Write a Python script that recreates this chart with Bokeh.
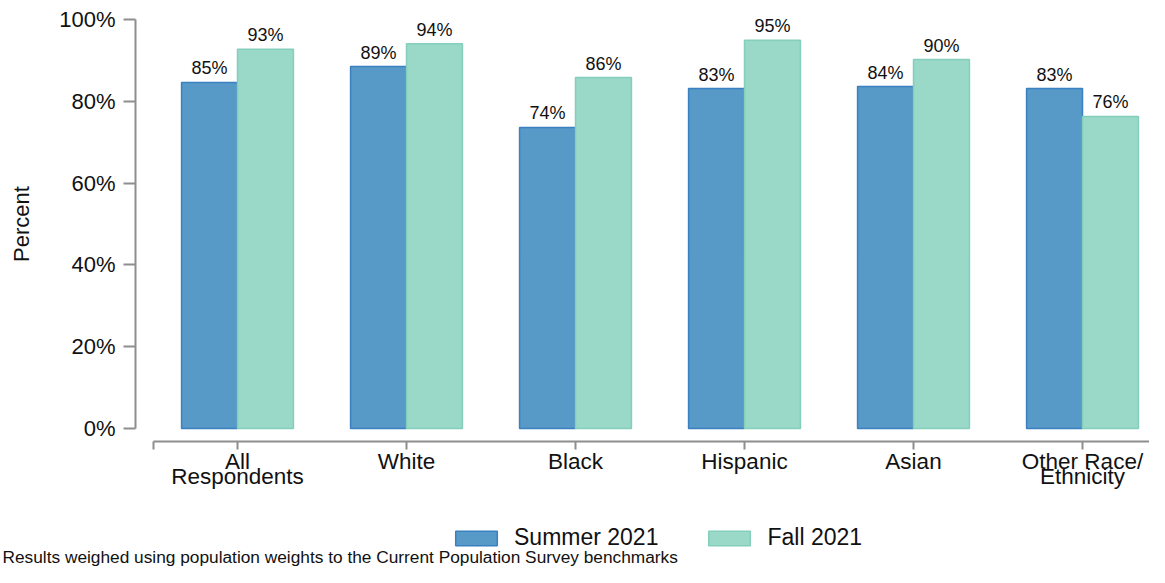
from bokeh.plotting import figure
from bokeh.models import FixedTicker, Range1d, Legend, LegendItem, Label, PrintfTickFormatter
from bokeh.core.properties import value
from bokeh.embed import file_html
from bokeh.resources import INLINE
import numpy as np

# ---- data ----
categories = ["All\nRespondents", "White", "Black", "Hispanic", "Asian", "Other Race/\nEthnicity"]
summer_2021 = [84.6, 88.5, 73.6, 83.1, 83.6, 83.1]
fall_2021 = [92.7, 94.1, 85.8, 94.9, 90.2, 76.3]
summer_labels = ["85%", "89%", "74%", "83%", "84%", "83%"]
fall_labels = ["93%", "94%", "86%", "95%", "90%", "76%"]
series_names = ["Summer 2021", "Fall 2021"]
y_ticks = [0, 20, 40, 60, 80, 100]
footnote = "Results weighed using population weights to the Current Population Survey benchmarks"

FONT = "Liberation Sans"
TXT = "#111111"
SUMMER_FILL, SUMMER_LINE = "#5799C7", "#3B80C0"
FALL_FILL, FALL_LINE = "#9AD8C8", "#84CFBC"
AXIS_COLOR = "#8E8E8E"

W, H = 1149, 567
pos = np.arange(1, len(categories) + 1)
bar_w = 0.331
half = bar_w / 2

# frame covers the whole canvas; axes are drawn at fixed locations
X0, X1 = -0.40237, 6.3964
Y0, Y1 = -33.985, 104.645
Y_AXIS_AT = 0.3964
X_AXIS_AT = -3.178

p = figure(width=W, height=H,
           x_range=Range1d(X0, X1), y_range=Range1d(Y0, Y1),
           output_backend="svg", toolbar_location=None,
           min_border_left=0, min_border_right=0, min_border_top=0, min_border_bottom=0)
p.outline_line_color = None
p.grid.visible = False
p.background_fill_color = "white"
p.border_fill_color = "white"

r1 = p.vbar(x=pos - half, top=summer_2021, bottom=0, width=bar_w,
            fill_color=SUMMER_FILL, line_color=SUMMER_LINE, line_width=1.5)
r2 = p.vbar(x=pos + half, top=fall_2021, bottom=0, width=bar_w,
            fill_color=FALL_FILL, line_color=FALL_LINE, line_width=1.5)

p.text(x=pos - half, y=summer_2021, text=summer_labels, text_align="center",
       text_baseline="alphabetic", y_offset=-14, text_font_size="18px",
       text_font=value(FONT), text_color=TXT)
p.text(x=pos + half, y=fall_2021, text=fall_labels, text_align="center",
       text_baseline="alphabetic", y_offset=-14, text_font_size="18px",
       text_font=value(FONT), text_color=TXT)

# y axis
ya = p.yaxis[0]
ya.fixed_location = Y_AXIS_AT
ya.ticker = FixedTicker(ticks=y_ticks)
ya.formatter = PrintfTickFormatter(format="%d%%")
ya.bounds = (0, 100)
ya.major_tick_out = 12
ya.major_tick_in = 0
ya.minor_tick_line_color = None
ya.axis_line_color = AXIS_COLOR
ya.axis_line_width = 2
ya.major_tick_line_color = AXIS_COLOR
ya.major_tick_line_width = 2
ya.major_label_standoff = 8
ya.major_label_text_font = FONT
ya.major_label_text_font_size = "22px"
ya.major_label_text_color = TXT
ya.axis_label = "Percent"
ya.axis_label_text_font = FONT
ya.axis_label_text_font_size = "22px"
ya.axis_label_text_font_style = "normal"
ya.axis_label_text_color = TXT
ya.axis_label_standoff = 22

# x axis
xa = p.xaxis[0]
xa.fixed_location = X_AXIS_AT
xa.ticker = FixedTicker(ticks=list(pos), minor_ticks=[0.5])
xa.major_label_overrides = {int(k): c for k, c in zip(pos, categories)}
xa.bounds = (0.5, X1)
xa.major_tick_out = 8
xa.major_tick_in = 0
xa.minor_tick_out = 8
xa.minor_tick_in = 0
xa.minor_tick_line_color = AXIS_COLOR
xa.minor_tick_line_width = 2
xa.axis_line_color = AXIS_COLOR
xa.axis_line_width = 2
xa.major_tick_line_color = AXIS_COLOR
xa.major_tick_line_width = 2
xa.major_label_standoff = 0
xa.major_label_text_font = FONT
xa.major_label_text_font_size = "22.5px"
xa.major_label_text_color = TXT
xa.major_label_text_line_height = 0.6

legend = Legend(items=[LegendItem(label=series_names[0], renderers=[r1]),
                       LegendItem(label=series_names[1], renderers=[r2])],
                orientation="horizontal", location=(450, 16),
                glyph_width=52, glyph_height=18, label_standoff=12, spacing=45,
                label_text_font=FONT, label_text_font_size="23px", label_text_color=TXT,
                border_line_color=None, background_fill_alpha=0, padding=0, margin=0)
p.add_layout(legend, "center")

p.add_layout(Label(x=2, y=1, x_units="screen", y_units="screen", text=footnote,
                   text_font=FONT, text_font_size="17.3px", text_baseline="bottom",
                   text_color=TXT))

open("out.html", "w").write(file_html(p, INLINE))
